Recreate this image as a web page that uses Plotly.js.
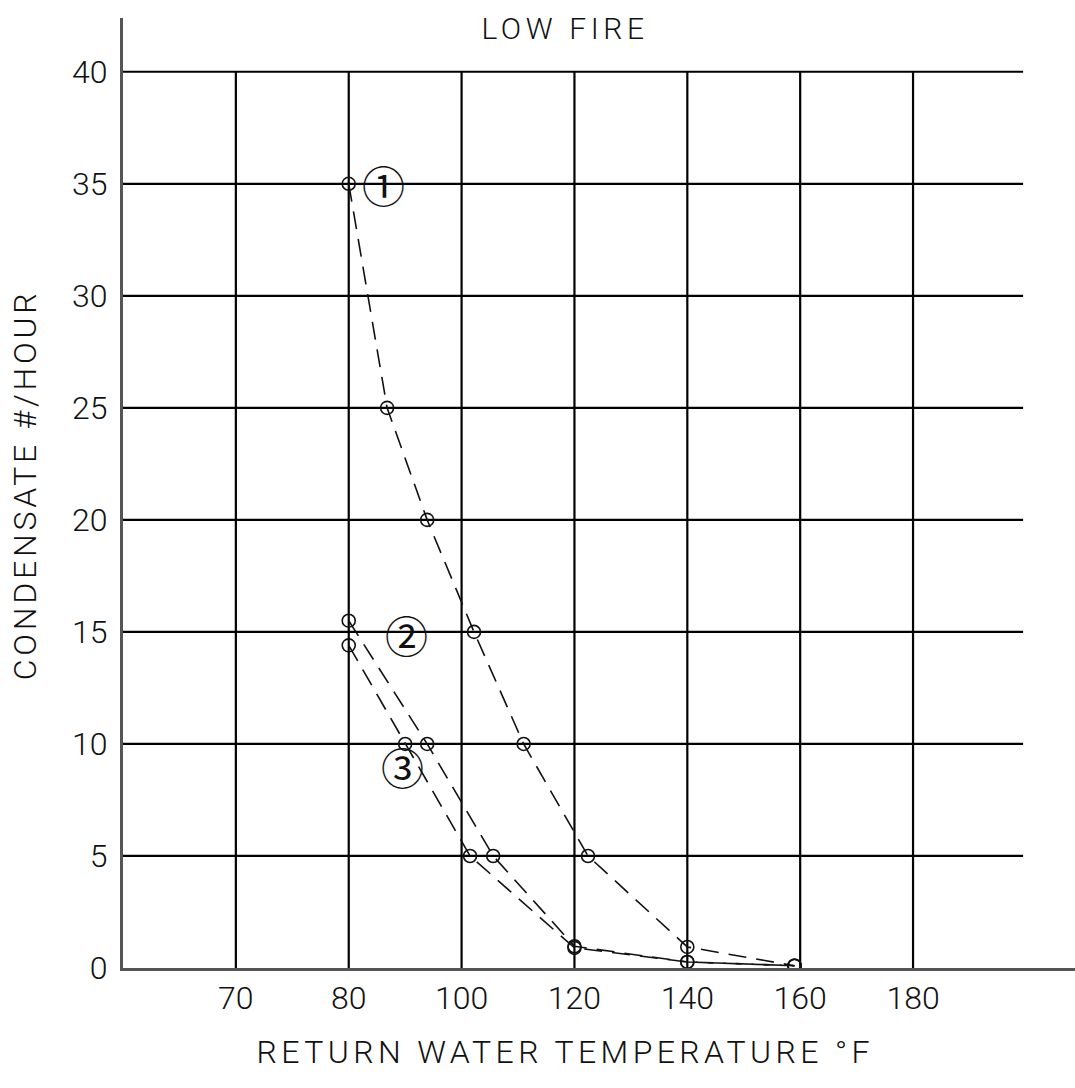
<!DOCTYPE html>
<html>
<head>
<meta charset="utf-8">
<script src="https://cdn.plot.ly/plotly-3.0.1.min.js"></script>
<style>
html,body{margin:0;padding:0;background:#fff;}
</style>
</head>
<body>
<div id="chart" style="width:1075px;height:1088px;"></div>
<script>
// Tick positions (temperature scale) and their printed labels (as drawn on the original)
const xTickVals = [60, 80, 100, 120, 140, 160, 180];
const xTickText = ['70', '80', '100', '120', '140', '160', '180'];
const yTickVals = [0, 5, 10, 15, 20, 25, 30, 35, 40];

// Curve 1
const curve1X = [80, 86.8, 93.9, 102.2, 111, 122.4, 140, 159];
const curve1Y = [35, 25, 20, 15, 10, 5, 0.94, 0.1];
// Curve 2
const curve2X = [80, 93.9, 105.6, 120, 140, 159];
const curve2Y = [15.5, 10, 5, 0.97, 0.27, 0.1];
// Curve 3
const curve3X = [80, 90, 101.5, 120, 140, 159];
const curve3Y = [14.4, 10, 5, 0.9, 0.27, 0.1];

// Curve labels
const labelText = ['①', '②', '③'];
const labelX = [86.1, 90.3, 89.6];
const labelY = [35.0, 14.9, 9.0];

const FONT = 'Roboto, "Liberation Sans", Arial, sans-serif';

function curve(x, y) {
  return {
    x: x, y: y, type: 'scatter', mode: 'lines+markers',
    line: {color: '#111', width: 1.6, dash: '18px,10px'},
    marker: {symbol: 'circle-open', size: 13, color: '#111', line: {width: 1.6, color: '#111'}},
    showlegend: false, hoverinfo: 'x+y'
  };
}

const shapes = [];
const gridTop = yTickVals[yTickVals.length - 1];
const gridRight = 199.5;
xTickVals.forEach(v => shapes.push({type: 'line', xref: 'x', yref: 'y', x0: v, x1: v, y0: 0, y1: gridTop,
  line: {color: '#000', width: 2.2}, layer: 'below'}));
yTickVals.filter(v => v > 0).forEach(v => shapes.push({type: 'line', xref: 'x', yref: 'y', x0: 40, x1: gridRight, y0: v, y1: v,
  line: {color: '#000', width: 2.2}, layer: 'below'}));

const annotations = labelText.map((t, i) => ({
  x: labelX[i], y: labelY[i], xref: 'x', yref: 'y', text: t, showarrow: false,
  font: {family: '"Noto Sans CJK JP", "DejaVu Sans", sans-serif', size: 43, color: '#111'},
  xanchor: 'center', yanchor: 'middle'
}));
annotations.push({
  text: 'RETURN WATER TEMPERATURE °F', xref: 'paper', yref: 'paper',
  x: (565 - 123) / (1075 - 123), y: -(1052 - 968) / (968 - 18), xanchor: 'center', yanchor: 'middle',
  showarrow: false, font: {family: FONT, size: 32, color: '#111', weight: 300}
});
annotations.push({
  text: 'CONDENSATE #/HOUR', xref: 'paper', yref: 'paper', textangle: -90,
  x: -(123 - 25) / (1075 - 123), y: (968 - 485) / (968 - 18), xanchor: 'center', yanchor: 'middle',
  showarrow: false, font: {family: FONT, size: 32, color: '#111', weight: 300}
});

const layout = {
  width: 1075, height: 1088,
  margin: {l: 123, r: 0, t: 18, b: 120},
  paper_bgcolor: '#fff', plot_bgcolor: '#fff',
  title: {text: 'LOW FIRE', x: 565 / 1075, xref: 'container', xanchor: 'center', y: 1 - 28 / 1088, yref: 'container', yanchor: 'middle',
    font: {family: FONT, size: 30, color: '#111', weight: 300}},
  xaxis: {
    range: [40, 208.7], tickvals: xTickVals, ticktext: xTickText,
    showgrid: false, zeroline: false, showline: true, linecolor: '#555', linewidth: 3,
    ticks: '', ticklabelstandoff: 0,
    tickfont: {family: FONT, size: 32, color: '#111', weight: 300}
  },
  yaxis: {
    range: [0, 42.4], tickvals: yTickVals,
    showgrid: false, zeroline: false, showline: true, linecolor: '#555', linewidth: 3,
    ticks: '', ticklabelstandoff: 6,
    tickfont: {family: FONT, size: 32, color: '#111', weight: 300}
  },
  shapes: shapes,
  annotations: annotations
};

Plotly.newPlot('chart', [curve(curve1X, curve1Y), curve(curve2X, curve2Y), curve(curve3X, curve3Y)], layout,
  {displayModeBar: false, staticPlot: true}).then(gd => {
  // widen the lettering like the original drafting font
  const setSpacing = (sel, px) => gd.querySelectorAll(sel).forEach(el => el.style.letterSpacing = px + 'px');
  setSpacing('.annotation[data-index="3"] text', 4.4);
  setSpacing('.annotation[data-index="4"] text', 3.8);
  setSpacing('.gtitle', 4.6);
});
</script>
</body>
</html>
